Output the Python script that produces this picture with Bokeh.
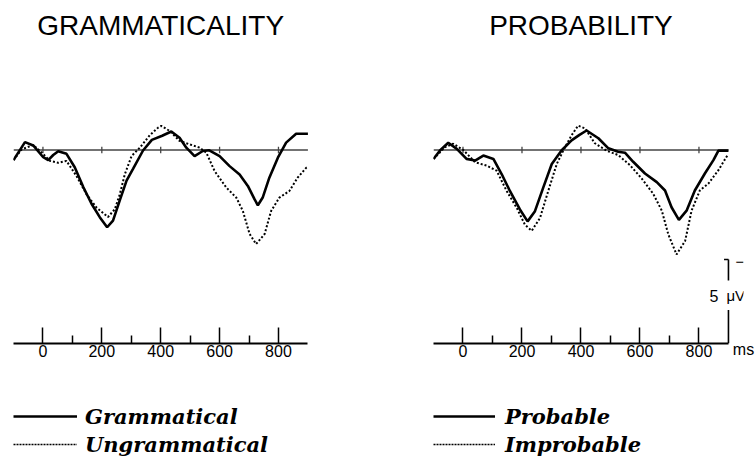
from bokeh.plotting import figure
from bokeh.models import Range1d, FixedTicker, Label, Legend, LegendItem
from bokeh.layouts import row, column
from bokeh.embed import file_html
from bokeh.resources import INLINE

# ---------------- data ----------------
TIME_TICKS = [0, 200, 400, 600, 800]
MINOR_TICKS = [100, 300, 500, 700]
TICK_LABELS = ["0", "200", "400", "600", "800"]

# Grammaticality panel (uV, positive plotted downward)
GRAM_MS = [-100, -80, -61, -33, 1, 18, 35, 52, 80, 108, 137, 165, 193, 218, 238, 261, 284, 306,
           340, 370, 405, 436, 464, 487, 515, 543, 565, 600, 634, 668, 696, 719, 730, 747, 769,
           798, 826, 860, 900]
GRAM_UV = [0.6, 0.05, -0.47, -0.27, 0.43, 0.6, 0.3, 0.07, 0.23, 1.03, 2.2, 3.2, 4.0, 4.6, 4.2, 3.0,
           1.82, 1.12, 0.03, -0.6, -0.85, -1.1, -0.73, -0.14, 0.36, 0.06, 0.02, 0.36, 0.96, 1.46,
           2.14, 2.94, 3.29, 2.81, 1.65, 0.46, -0.44, -0.97, -0.97]

UNGRAM_MS = [-100, -72, -33, -4, 24, 52, 80, 114, 148, 182, 221, 244, 261, 278, 301, 329, 363, 391,
             402, 431, 464, 498, 532, 555, 583, 623, 657, 679, 702, 724, 753, 775, 803, 837, 865,
             894, 900]
UNGRAM_UV = [0.6, -0.04, -0.3, 0.16, 0.65, 0.76, 0.65, 1.55, 2.64, 3.43, 3.99, 3.53, 2.64, 1.45,
             0.36, -0.14, -0.88, -1.33, -1.43, -1.13, -0.54, -0.34, -0.14, 0.16, 1.25, 2.24, 2.84,
             3.63, 5.0, 5.6, 5.0, 3.63, 2.84, 2.44, 1.65, 1.06, 1.0]

# Probability panel
PROB_MS = [-100, -78, -50, -21, 12, 41, 69, 103, 131, 159, 193, 219, 244, 272, 301, 334, 368, 395,
           419, 459, 493, 526, 549, 577, 617, 657, 685, 707, 732, 758, 786, 820, 849, 866, 900]
PROB_UV = [0.53, 0.03, -0.43, -0.07, 0.53, 0.63, 0.33, 0.53, 1.43, 2.44, 3.54, 4.25, 3.64, 2.24,
           0.83, 0.03, -0.57, -0.9, -1.16, -0.7, -0.1, 0.1, 0.16, 0.7, 1.4, 1.91, 2.41, 3.41, 4.16,
           3.61, 2.41, 1.4, 0.6, 0.04, 0.04]

IMPROB_MS = [-100, -61, -33, 1, 41, 80, 114, 148, 182, 210, 233, 261, 289, 318, 340, 368, 390, 414,
             447, 487, 526, 566, 606, 645, 674, 696, 724, 753, 775, 803, 832, 866, 897, 900]
IMPROB_UV = [0.53, -0.17, -0.37, 0.0, 0.73, 0.93, 1.23, 2.44, 3.44, 4.45, 4.81, 4.05, 2.44, 0.83,
             0.03, -0.87, -1.45, -1.28, -0.4, 0.04, 0.3, 0.9, 1.7, 2.61, 3.61, 5.02, 6.22, 5.42,
             3.61, 2.41, 2.0, 1.2, 0.3, 0.25]

SCALE_UV = 5          # calibration bar, microvolts
SCALE_LABEL = "5"
SCALE_UNIT = "\u03bcV"
TIME_UNIT = "ms"

# ---------------- layout constants ----------------
AX_START, AX_END = -100, 900         # extent of the time axis
UV_BOTTOM, UV_TOP = 11.52, -8.9      # time axis sits at UV_BOTTOM; negative up
TITLE_UV = -7.41

SANS = "Liberation Sans"
SERIF = "DejaVu Serif"

SOLID = dict(line_color="black", line_width=2.6)
DOTTED = dict(line_color="black", line_width=2, line_dash="2 2")


def make_panel(title, solid, dotted, width, left, right, x_end, scale_bar=False):
    p = figure(width=width, height=373,
               x_range=Range1d(AX_START, x_end), y_range=Range1d(UV_BOTTOM, UV_TOP),
               y_axis_type=None, toolbar_location=None, output_backend="svg",
               min_border_left=left, min_border_right=right,
               min_border_top=0, min_border_bottom=30)
    p.grid.visible = False
    p.outline_line_color = None
    p.background_fill_color = "white"
    p.border_fill_color = "white"

    ax = p.xaxis[0]
    ax.bounds = (AX_START, AX_END)
    ax.ticker = FixedTicker(ticks=TIME_TICKS, minor_ticks=MINOR_TICKS)
    ax.major_label_overrides = {t: l for t, l in zip(TIME_TICKS, TICK_LABELS)}
    ax.axis_line_width = 2
    ax.axis_line_color = "black"
    ax.major_tick_in = 16
    ax.major_tick_out = 0
    ax.minor_tick_in = 8
    ax.minor_tick_out = 0
    ax.major_tick_line_width = 1.5
    ax.minor_tick_line_width = 1.5
    ax.major_tick_line_color = "black"
    ax.minor_tick_line_color = "black"
    ax.major_label_standoff = 1
    ax.major_label_text_font = SANS
    ax.major_label_text_font_size = "16px"
    ax.major_label_text_color = "black"

    # zero line with small ticks
    p.line([AX_START, AX_END], [0, 0], line_color="#444444", line_width=1.3)
    p.segment(x0=TIME_TICKS, x1=TIME_TICKS, y0=[-0.2] * len(TIME_TICKS), y1=[0.2] * len(TIME_TICKS),
              line_color="#444444", line_width=1.3)

    p.line(solid[0], solid[1], **SOLID)
    p.line(dotted[0], dotted[1], **DOTTED)

    p.add_layout(Label(x=(TIME_TICKS[0] + TIME_TICKS[-1]) / 2, y=TITLE_UV, text=title,
                       text_align="center", text_baseline="middle",
                       text_font=SANS, text_font_size="28px", text_color="black"))

    if scale_bar:
        top = UV_BOTTOM - SCALE_UV
        xb = AX_END
        p.segment(x0=[xb, xb, xb - 15], x1=[xb, xb, xb],
                  y0=[top, UV_BOTTOM - 2.0, top], y1=[top + 1.25, UV_BOTTOM, top],
                  line_color="black", line_width=1.6)
        p.add_layout(Label(x=xb, y=top + 0.15, text="\u2212", x_offset=7,
                           text_align="left", text_baseline="middle",
                           text_font=SANS, text_font_size="15px", text_color="black"))
        mid = UV_BOTTOM - 2.85
        p.add_layout(Label(x=xb, y=mid, text=SCALE_LABEL, x_offset=-10,
                           text_align="right", text_baseline="middle",
                           text_font=SANS, text_font_size="16px", text_color="black"))
        p.add_layout(Label(x=xb, y=mid, text=SCALE_UNIT, x_offset=-2,
                           text_align="left", text_baseline="middle",
                           text_font=SANS, text_font_size="15px", text_color="black"))
        # time unit as the axis label, pulled up to the tick-label row, at the frame end
        ax.axis_label = TIME_UNIT
        ax.axis_label_text_font = SANS
        ax.axis_label_text_font_size = "16px"
        ax.axis_label_text_font_style = "normal"
        ax.axis_label_text_color = "black"
        ax.axis_label_standoff = -19
        if "axis_label_align" in ax.properties():
            ax.axis_label_align = "end"
    return p


def make_legend(names, solid, dotted, width, glyph_w, standoff):
    # the legend strip re-uses the series; its ranges keep them out of view
    lg = figure(width=width, height=84, x_range=Range1d(5000, 5001), y_range=Range1d(5000, 5001),
                x_axis_type=None, y_axis_type=None, toolbar_location=None,
                output_backend="svg", min_border=0)
    lg.grid.visible = False
    lg.outline_line_color = None
    r_solid = lg.line(solid[0], solid[1], **SOLID)
    r_dot = lg.line(dotted[0], dotted[1], line_color="black", line_width=1.6, line_dash="2 1")
    legend = Legend(items=[LegendItem(label=names[0], renderers=[r_solid]),
                           LegendItem(label=names[1], renderers=[r_dot])],
                    location=(13, 0), orientation="vertical",
                    glyph_width=glyph_w, glyph_height=26, label_height=26, spacing=2,
                    label_standoff=standoff, padding=0, margin=0,
                    label_text_font=SERIF, label_text_font_style="bold italic",
                    label_text_font_size="21px", label_text_color="black",
                    background_fill_alpha=0, border_line_color=None)
    lg.add_layout(legend)
    return lg


p1 = make_panel("GRAMMATICALITY", (GRAM_MS, GRAM_UV), (UNGRAM_MS, UNGRAM_UV),
                width=420, left=13, right=112, x_end=902)
p2 = make_panel("PROBABILITY", (PROB_MS, PROB_UV), (IMPROB_MS, IMPROB_UV),
                width=335, left=13, right=12, x_end=951, scale_bar=True)
l1 = make_legend(["Grammatical", "Ungrammatical"], (GRAM_MS, GRAM_UV), (UNGRAM_MS, UNGRAM_UV),
                 420, 64, 8)
l2 = make_legend(["Probable", "Improbable"], (PROB_MS, PROB_UV), (IMPROB_MS, IMPROB_UV),
                 335, 62, 10)

layout = column(row(p1, p2, spacing=0), row(l1, l2, spacing=0), spacing=0)
open("out.html", "w").write(file_html(layout, INLINE))
